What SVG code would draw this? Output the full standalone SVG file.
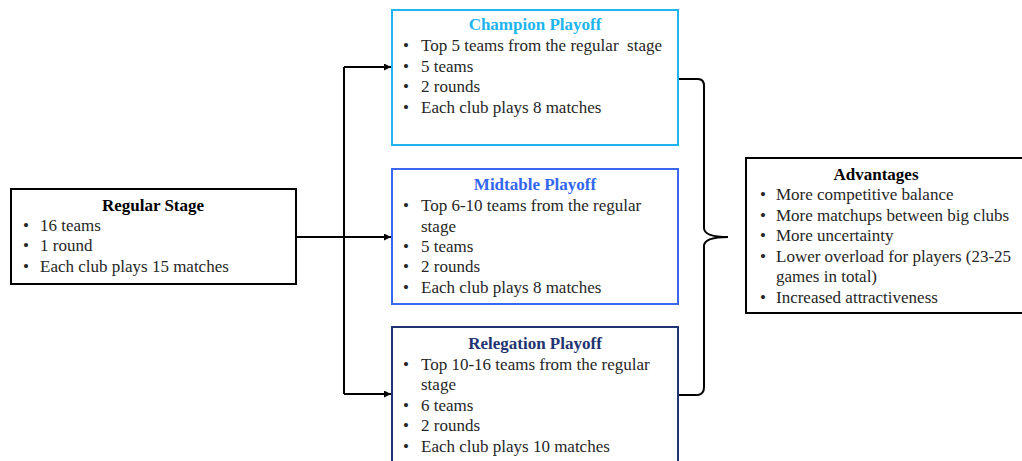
<svg xmlns="http://www.w3.org/2000/svg" width="1022" height="461" viewBox="0 0 1022 461">
<defs>
<marker id="arr" viewBox="0 0 10 10" refX="10" refY="5" markerWidth="8" markerHeight="7" orient="auto" markerUnits="userSpaceOnUse">
<path d="M0,0 L10,5 L0,10 z" fill="#000"/>
</marker>
<style>
.t{font-family:"Liberation Serif","Times New Roman",serif;font-size:17px;fill:#262626}
.h{font-family:"Liberation Serif","Times New Roman",serif;font-size:17px;font-weight:bold;text-anchor:middle}
.box{fill:#fff;stroke-width:2}
.c{fill:none;stroke:#000;stroke-width:2}
</style>
</defs>
<rect width="1022" height="461" fill="#fff"/>
<g id="connectors">
<path class="c" d="M296,237 H344 M344,67 V394"/>
<path class="c" d="M344,237 H391" marker-end="url(#arr)"/>
<path class="c" d="M344,67 H391" marker-end="url(#arr)"/>
<path class="c" d="M344,394 H391" marker-end="url(#arr)"/>
<path class="c" d="M678,79 H698 Q704,79 704,86 V228 Q704,237 728,237 Q704,237 704,246 V387 Q704,394 698,395 H678"/>
</g>
<g id="regular">
<rect class="box" x="11" y="189" width="285" height="95" stroke="#000"/>
<text class="h" x="153" y="211" fill="#000">Regular Stage</text>
<text class="t" x="23" y="231">•</text><text class="t" x="40" y="231">16 teams</text>
<text class="t" x="23" y="251">•</text><text class="t" x="40" y="251">1 round</text>
<text class="t" x="23" y="272">•</text><text class="t" x="40" y="272">Each club plays 15 matches</text>
</g>
<g id="champion">
<rect class="box" x="392" y="10" width="286" height="135" stroke="#1EB4EE"/>
<text class="h" x="535" y="30" fill="#1EB4EE">Champion Playoff</text>
<text class="t" x="403" y="51">•</text><text class="t" x="421" y="51">Top 5 teams from the regular&#160; stage</text>
<text class="t" x="403" y="72">•</text><text class="t" x="421" y="72">5 teams</text>
<text class="t" x="403" y="92">•</text><text class="t" x="421" y="92">2 rounds</text>
<text class="t" x="403" y="113">•</text><text class="t" x="421" y="113">Each club plays 8 matches</text>
</g>
<g id="midtable">
<rect class="box" x="392" y="169" width="286" height="135" stroke="#3A66F0"/>
<text class="h" x="535" y="190" fill="#3366F0">Midtable Playoff</text>
<text class="t" x="403" y="211">•</text><text class="t" x="421" y="211">Top 6-10 teams from the regular</text>
<text class="t" x="421" y="232">stage</text>
<text class="t" x="403" y="252">•</text><text class="t" x="421" y="252">5 teams</text>
<text class="t" x="403" y="272">•</text><text class="t" x="421" y="272">2 rounds</text>
<text class="t" x="403" y="293">•</text><text class="t" x="421" y="293">Each club plays 8 matches</text>
</g>
<g id="relegation">
<rect class="box" x="392" y="327" width="286" height="145" stroke="#1F3470"/>
<text class="h" x="535" y="349" fill="#1F3470">Relegation Playoff</text>
<text class="t" x="403" y="370">•</text><text class="t" x="421" y="370">Top 10-16 teams from the regular</text>
<text class="t" x="421" y="390">stage</text>
<text class="t" x="403" y="411">•</text><text class="t" x="421" y="411">6 teams</text>
<text class="t" x="403" y="431">•</text><text class="t" x="421" y="431">2 rounds</text>
<text class="t" x="403" y="452">•</text><text class="t" x="421" y="452">Each club plays 10 matches</text>
</g>
<g id="advantages">
<rect class="box" x="746" y="158" width="290" height="155" stroke="#000"/>
<text class="h" x="876" y="180" fill="#000">Advantages</text>
<text class="t" x="760" y="200">•</text><text class="t" x="776" y="200">More competitive balance</text>
<text class="t" x="760" y="221">•</text><text class="t" x="776" y="221">More matchups between big clubs</text>
<text class="t" x="760" y="241">•</text><text class="t" x="776" y="241">More uncertainty</text>
<text class="t" x="760" y="262">•</text><text class="t" x="776" y="262">Lower overload for players (23-25</text>
<text class="t" x="776" y="282">games in total)</text>
<text class="t" x="760" y="303">•</text><text class="t" x="776" y="303">Increased attractiveness</text>
</g>
</svg>
